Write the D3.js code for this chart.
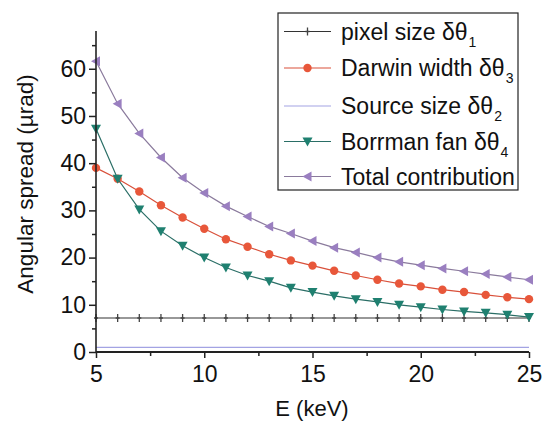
<!DOCTYPE html>
<html><head><meta charset="utf-8">
<script src="https://cdn.jsdelivr.net/npm/d3@7"></script>
<style>body{margin:0;background:#fff}svg{display:block;font-family:"Liberation Sans",Arial,sans-serif}</style>
</head><body>
<svg id="c" width="543" height="422"></svg>
<script>
const energy = d3.range(5, 26);
const pixelSize = energy.map(() => 7.2);
const sourceSize = energy.map(() => 1.0);
const darwin = [39.0,36.7,34.0,31.1,28.5,26.1,23.9,22.3,20.7,19.4,18.3,17.2,16.2,15.3,14.5,13.9,13.2,12.7,12.1,11.6,11.2];
const borrmann = [47.3,36.7,30.2,25.6,22.5,20.0,17.9,16.2,15.0,13.6,12.7,11.9,11.2,10.6,10.0,9.5,9.0,8.6,8.3,7.9,7.4];
const total = [61.6,52.6,46.3,41.2,36.9,33.7,30.9,28.7,26.6,25.1,23.5,22.1,21.1,20.0,19.1,18.4,17.7,17.1,16.5,15.9,15.3];
const xTicks = [5,10,15,20,25];
const yTicks = [0,10,20,30,40,50,60];
const legendLabels = [["pixel size δθ","1"],["Darwin width δθ","3"],["Source size δθ","2"],["Borrman fan δθ","4"],["Total contribution",""]];

const svg = d3.select("#c");
const x = d3.scaleLinear().domain([5,25]).range([96,529]);
const y = d3.scaleLinear().domain([0,68]).range([352,31]);

const series = [
  {vals: pixelSize, line:"#333", fill:"#444", marker:"plus"},
  {vals: darwin, line:"#d9503a", fill:"#e8573a", marker:"circle"},
  {vals: sourceSize, line:"#a3a3e3", fill:"#a3a3e3", marker:"none"},
  {vals: borrmann, line:"#2a6e66", fill:"#1f8070", marker:"down"},
  {vals: total, line:"#8a7a9c", fill:"#9a7fc0", marker:"left"}
];

function marker(g, type, fill, cx, cy){
  if(type==="circle") g.append("circle").attr("cx",cx).attr("cy",cy).attr("r",4.2).attr("fill",fill);
  else if(type==="down") g.append("path").attr("d",`M${cx-5},${cy-4}L${cx+5},${cy-4}L${cx},${cy+5}Z`).attr("fill",fill);
  else if(type==="left") g.append("path").attr("d",`M${cx-5},${cy}L${cx+4},${cy-5}L${cx+4},${cy+5}Z`).attr("fill",fill);
  else if(type==="plus") g.append("path").attr("d",`M${cx},${cy-4}V${cy+4}M${cx-2},${cy}H${cx+2}`).attr("stroke",fill).attr("stroke-width",1.3);
}

const line = d3.line().x((d,i)=>x(energy[i])).y(d=>y(d));
series.forEach(s=>{
  svg.append("path").attr("d",line(s.vals)).attr("fill","none").attr("stroke",s.line).attr("stroke-width",1.2);
  const g = svg.append("g");
  if(s.marker!=="none") s.vals.forEach((v,i)=>marker(g,s.marker,s.fill,x(energy[i]),y(v)));
});

// axes
const xAxis = svg.append("g").attr("transform","translate(0,352)")
  .call(d3.axisBottom(x).tickValues(xTicks).tickSize(6).tickPadding(8).tickFormat(d3.format("d")));
svg.append("g").attr("transform","translate(0,352)")
  .call(d3.axisBottom(x).tickValues([7.5,12.5,17.5,22.5]).tickSize(4).tickFormat(""))
  .call(g=>g.select(".domain").remove());
const yAxis = svg.append("g").attr("transform","translate(96,0)")
  .call(d3.axisLeft(y).tickValues(yTicks).tickSize(7).tickPadding(3).tickFormat(d3.format("d")));
svg.append("g").attr("transform","translate(96,0)")
  .call(d3.axisLeft(y).tickValues([5,15,25,35,45,55,65]).tickSize(4).tickFormat(""))
  .call(g=>g.select(".domain").remove());
svg.selectAll(".tick line").attr("stroke","#222").attr("stroke-width",1.5);
xAxis.select(".domain").attr("stroke","#222").attr("stroke-width",2.2).attr("d","M96,0H529");
yAxis.select(".domain").attr("stroke","#222").attr("stroke-width",1.6).attr("d","M0,352V31");
svg.selectAll(".tick text").attr("font-size",23).attr("fill","#111").attr("font-family","Liberation Sans, Arial, sans-serif");

svg.append("text").attr("x",312).attr("y",416).attr("text-anchor","middle").attr("font-size",22).attr("fill","#111").text("E (keV)");
svg.append("text").attr("transform","translate(33,184) rotate(-90)").attr("text-anchor","middle").attr("font-size",22.5).attr("fill","#111").text("Angular spread (µrad)");

// legend
const lg = svg.append("g");
lg.append("rect").attr("x",278).attr("y",13).attr("width",240).attr("height",177).attr("fill","#fff").attr("stroke","#222").attr("stroke-width",1.2);
const rowsY = [31.5,68,106,141.5,176.5];
legendLabels.forEach((lab,i)=>{
  const s = series[i];
  const cy = rowsY[i];
  lg.append("line").attr("x1",284).attr("x2",331).attr("y1",cy).attr("y2",cy).attr("stroke",s.line).attr("stroke-width",1.2);
  if(s.marker!=="none") marker(lg,s.marker,s.fill,307.5,cy);
  const t = lg.append("text").attr("x",341).attr("y",cy+8).attr("font-size",23).attr("fill","#111");
  t.append("tspan").text(lab[0]);
  if(lab[1]) t.append("tspan").attr("font-size",14).attr("dx",1).attr("dy",7).text(lab[1]);
});
</script>
</body></html>
